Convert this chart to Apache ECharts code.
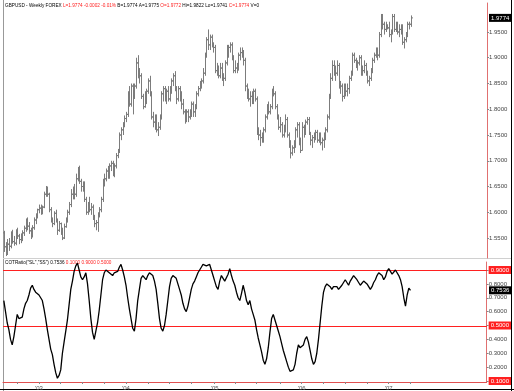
<!DOCTYPE html>
<html><head><meta charset="utf-8">
<script src="https://cdn.jsdelivr.net/npm/echarts@6/dist/echarts.min.js"></script>
<style>html,body{margin:0;padding:0;background:#fff}#c{width:514px;height:391px}</style>
</head><body><div id="c"></div>
<script>
// ---------- data ----------
const startWeek = '2002-08-09';          // first weekly bar (week ending Friday)
const totalSlots = 289;                  // weekly slots on the x axis (data + empty right margin)
const yearLabels = {"2003":"'03","2004":"'04","2005":"'05","2006":"'06","2007":"'07"};
const priceTicks = [1.55,1.60,1.65,1.70,1.75,1.80,1.85,1.90,1.95];
const cotTicks = [0.1,0.2,0.3,0.4,0.5,0.6,0.7,0.8,0.9];
const cotRedTicks = [0.1,0.5,0.9];
const cotLevels = [0.9,0.5];
const lastPrice = 1.9774;
const lastCot = 0.7536;

const opens = [
1.5600,1.5330,1.5300,1.5380,1.5340,1.5600,1.5430,1.5400,1.5620,1.5540,1.5470,1.5500,1.5600,1.5690,1.5850,1.5730,1.5640,1.5540,1.5700,1.5850,1.5930,
1.6050,1.6080,1.6050,1.6100,1.6350,1.6450,1.6350,1.6050,1.5850,1.5780,1.5980,1.5850,1.5650,1.5780,1.5620,1.5500,1.5720,1.5850,1.6000,1.6150,1.6350,1.6400,1.6350,1.6650,1.6800,1.6600,1.6500,1.6550,1.6250,1.6000,1.6150,1.6050,1.6100,1.5900,1.5780,1.5800,1.5950,1.6050,1.6250,1.6600,1.6650,1.6800,1.6700,1.6900,1.6950,1.6750,1.6900,1.7100,1.7200,1.7500,1.7600,1.7700,
1.7820,1.7900,1.8300,1.8100,1.8450,1.8250,1.8450,1.8900,1.8750,1.8650,1.8250,1.8050,1.8300,1.8350,1.8550,1.8300,1.7850,1.7750,1.7800,1.7600,1.7650,1.7850,1.8300,1.8400,1.8250,1.8350,1.8200,1.8400,1.8550,1.8650,1.8400,1.8200,1.8400,1.8250,1.8100,1.7950,1.7800,1.7950,1.7850,1.7950,1.8100,1.7950,1.8050,1.8300,1.8400,1.8500,1.8550,1.8700,1.9050,1.9350,1.9250,1.9400,1.9250,
1.9200,1.8750,1.8800,1.8650,1.8800,1.8600,1.8600,1.8900,1.9200,1.9200,1.9250,1.9000,1.8750,1.8800,1.8800,1.9050,1.9100,1.9100,1.8950,1.8450,1.8300,1.8200,1.8250,1.8200,1.8350,1.8200,1.7550,1.7500,1.7450,1.7400,1.7600,1.7850,1.8050,1.7950,1.8050,1.8350,1.8300,1.8050,1.7850,1.7650,1.7700,1.7500,1.7600,1.7800,1.7500,1.7300,1.7150,1.7250,1.7300,1.7600,1.7700,1.7400,
1.7200,1.7650,1.7600,1.7750,1.7800,1.7550,1.7400,1.7450,1.7500,1.7550,1.7400,1.7500,1.7350,1.7400,1.7450,1.7600,1.7850,1.8250,1.8600,1.8850,1.8800,1.8700,1.8850,1.8450,1.8450,1.8250,1.8450,1.8350,1.8400,1.8600,1.8700,1.9050,1.8950,1.8850,1.8900,1.9000,1.8700,1.8750,1.8850,1.8700,1.8550,1.8600,1.8750,1.8950,1.9050,1.9150,1.9050,1.9450,1.9750,1.9650,1.9550,1.9600,
1.9580,1.9450,1.9500,1.9800,1.9550,1.9650,1.9500,1.9550,1.9600,1.9300,1.9350,1.9450,1.9650,1.9650];

const highs = [
1.5640,1.5420,1.5480,1.5500,1.5630,1.5660,1.5540,1.5670,1.5700,1.5580,1.5590,1.5650,1.5740,1.5880,1.5900,1.5810,1.5700,1.5750,1.5900,1.5980,1.6070,
1.6150,1.6150,1.6130,1.6400,1.6510,1.6500,1.6380,1.6100,1.5900,1.6020,1.6050,1.5880,1.5830,1.5800,1.5700,1.5780,1.5900,1.6050,1.6200,1.6450,1.6500,1.6550,1.6750,1.6880,1.6905,1.6650,1.6600,1.6600,1.6300,1.6200,1.6300,1.6180,1.6150,1.5950,1.5850,1.6000,1.6100,1.6300,1.6650,1.6750,1.6850,1.6900,1.6950,1.7000,1.7000,1.6950,1.7150,1.7230,1.7550,1.7650,1.7750,1.7880,
1.7950,1.8350,1.8450,1.8500,1.8500,1.8500,1.9000,1.9050,1.8800,1.8700,1.8300,1.8350,1.8400,1.8600,1.8650,1.8350,1.7950,1.7900,1.7900,1.7750,1.7900,1.8350,1.8450,1.8450,1.8400,1.8450,1.8450,1.8600,1.8700,1.8740,1.8450,1.8450,1.8450,1.8350,1.8200,1.8000,1.8000,1.8000,1.8000,1.8150,1.8150,1.8100,1.8350,1.8450,1.8550,1.8600,1.8800,1.9100,1.9400,1.9550,1.9450,1.9450,1.9300,
1.9250,1.8900,1.8850,1.8900,1.8900,1.8700,1.8950,1.9250,1.9250,1.9300,1.9300,1.9050,1.8950,1.8900,1.9100,1.9200,1.9200,1.9150,1.9000,1.8500,1.8400,1.8350,1.8350,1.8400,1.8400,1.8250,1.7650,1.7600,1.7550,1.7650,1.7900,1.8100,1.8150,1.8100,1.8400,1.8450,1.8350,1.8100,1.7900,1.7850,1.7750,1.7700,1.7900,1.7850,1.7550,1.7400,1.7300,1.7400,1.7650,1.7750,1.7750,1.7450,
1.7750,1.7700,1.7800,1.7850,1.7850,1.7550,1.7500,1.7550,1.7600,1.7600,1.7550,1.7550,1.7450,1.7550,1.7650,1.7900,1.8300,1.8700,1.8950,1.8950,1.8850,1.8950,1.8900,1.8550,1.8500,1.8500,1.8500,1.8500,1.8650,1.8750,1.9100,1.9100,1.9000,1.8950,1.9050,1.9050,1.8850,1.8950,1.8900,1.8750,1.8650,1.8800,1.9000,1.9100,1.9200,1.9200,1.9500,1.9850,1.9850,1.9700,1.9700,1.9650,
1.9700,1.9550,1.9850,1.9850,1.9700,1.9700,1.9650,1.9650,1.9650,1.9400,1.9500,1.9700,1.9700,1.9822];

const lows = [
1.5230,1.5150,1.5170,1.5250,1.5300,1.5390,1.5350,1.5360,1.5480,1.5380,1.5400,1.5440,1.5540,1.5620,1.5650,1.5580,1.5480,1.5510,1.5660,1.5770,1.5880,
1.5980,1.5950,1.5960,1.6080,1.6300,1.6300,1.6000,1.5800,1.5710,1.5750,1.5800,1.5560,1.5620,1.5560,1.5460,1.5480,1.5700,1.5800,1.5950,1.6100,1.6250,1.6250,1.6300,1.6600,1.6550,1.6400,1.6400,1.6200,1.5950,1.5950,1.6000,1.5950,1.5850,1.5710,1.5650,1.5620,1.5900,1.6000,1.6200,1.6500,1.6600,1.6650,1.6650,1.6800,1.6700,1.6680,1.6850,1.7050,1.7150,1.7400,1.7500,1.7650,
1.7750,1.7850,1.8050,1.8050,1.7900,1.8200,1.8400,1.8600,1.8500,1.8200,1.8000,1.8030,1.8100,1.8300,1.8250,1.7800,1.7650,1.7600,1.7550,1.7480,1.7600,1.7800,1.8150,1.8150,1.8100,1.8150,1.8150,1.8300,1.8450,1.8350,1.8100,1.8150,1.8150,1.8000,1.7900,1.7720,1.7750,1.7750,1.7800,1.7850,1.7850,1.7850,1.8000,1.8250,1.8350,1.8400,1.8500,1.8650,1.9000,1.9150,1.9150,1.9200,1.9100,
1.8700,1.8650,1.8600,1.8600,1.8550,1.8450,1.8550,1.8850,1.9000,1.9100,1.8950,1.8700,1.8700,1.8700,1.8750,1.8950,1.9000,1.8850,1.8350,1.8200,1.8150,1.8050,1.8100,1.8100,1.8150,1.7500,1.7400,1.7285,1.7350,1.7350,1.7550,1.7800,1.7900,1.7900,1.8000,1.8250,1.8000,1.7800,1.7600,1.7550,1.7450,1.7450,1.7550,1.7450,1.7250,1.7045,1.7100,1.7150,1.7250,1.7450,1.7300,1.7150,
1.7200,1.7450,1.7500,1.7700,1.7500,1.7300,1.7250,1.7350,1.7400,1.7350,1.7350,1.7300,1.7200,1.7250,1.7400,1.7550,1.7800,1.8200,1.8550,1.8650,1.8550,1.8650,1.8400,1.8300,1.8150,1.8200,1.8250,1.8250,1.8300,1.8550,1.8650,1.8900,1.8800,1.8750,1.8850,1.8650,1.8650,1.8700,1.8650,1.8500,1.8450,1.8550,1.8700,1.8900,1.9000,1.8950,1.9000,1.9400,1.9550,1.9450,1.9500,1.9550,
1.9400,1.9300,1.9450,1.9500,1.9500,1.9450,1.9400,1.9450,1.9250,1.9180,1.9300,1.9400,1.9550,1.9600];

const closes = [
1.5330,1.5300,1.5380,1.5340,1.5600,1.5430,1.5400,1.5620,1.5540,1.5470,1.5500,1.5600,1.5690,1.5850,1.5730,1.5640,1.5540,1.5700,1.5850,1.5930,1.6050,
1.6080,1.6050,1.6100,1.6350,1.6450,1.6350,1.6050,1.5850,1.5780,1.5980,1.5850,1.5650,1.5780,1.5620,1.5500,1.5720,1.5850,1.6000,1.6150,1.6350,1.6400,1.6350,1.6650,1.6800,1.6600,1.6500,1.6550,1.6250,1.6000,1.6150,1.6050,1.6100,1.5900,1.5780,1.5800,1.5950,1.6050,1.6250,1.6600,1.6650,1.6800,1.6700,1.6900,1.6950,1.6750,1.6900,1.7100,1.7200,1.7500,1.7600,1.7700,1.7820,
1.7900,1.8300,1.8100,1.8450,1.8250,1.8450,1.8900,1.8750,1.8650,1.8250,1.8050,1.8300,1.8350,1.8550,1.8300,1.7850,1.7750,1.7800,1.7600,1.7650,1.7850,1.8300,1.8400,1.8250,1.8350,1.8200,1.8400,1.8550,1.8650,1.8400,1.8200,1.8400,1.8250,1.8100,1.7950,1.7800,1.7950,1.7850,1.7950,1.8100,1.7950,1.8050,1.8300,1.8400,1.8500,1.8550,1.8700,1.9050,1.9350,1.9250,1.9400,1.9250,1.9200,
1.8750,1.8800,1.8650,1.8800,1.8600,1.8600,1.8900,1.9200,1.9200,1.9250,1.9000,1.8750,1.8800,1.8800,1.9050,1.9100,1.9100,1.8950,1.8450,1.8300,1.8200,1.8250,1.8200,1.8350,1.8200,1.7550,1.7500,1.7450,1.7400,1.7600,1.7850,1.8050,1.7950,1.8050,1.8350,1.8300,1.8050,1.7850,1.7650,1.7700,1.7500,1.7600,1.7800,1.7500,1.7300,1.7150,1.7250,1.7300,1.7600,1.7700,1.7400,1.7200,
1.7650,1.7600,1.7750,1.7800,1.7550,1.7400,1.7450,1.7500,1.7550,1.7400,1.7500,1.7350,1.7400,1.7450,1.7600,1.7850,1.8250,1.8600,1.8850,1.8800,1.8700,1.8850,1.8450,1.8450,1.8250,1.8450,1.8350,1.8400,1.8600,1.8700,1.9050,1.8950,1.8850,1.8900,1.9000,1.8700,1.8750,1.8850,1.8700,1.8550,1.8600,1.8750,1.8950,1.9050,1.9150,1.9050,1.9450,1.9750,1.9650,1.9550,1.9600,1.9580,
1.9450,1.9500,1.9800,1.9550,1.9650,1.9500,1.9550,1.9600,1.9300,1.9350,1.9450,1.9650,1.9650,1.9774];

const cotRatio = [
0.68,0.60,0.52,0.47,0.40, 0.36,0.42,0.50,0.58,0.55, 0.54,0.56,0.62,0.66,0.68, 0.72,0.77,0.79,0.76,0.74,
0.74,0.72,0.70,0.68,0.62, 0.55,0.47,0.40,0.33,0.29, 0.22,0.16,0.12,0.14,0.18, 0.30,0.38,0.46,0.54,0.65,
0.76,0.82,0.89,0.93,0.95, 0.90,0.85,0.83,0.85,0.88, 0.80,0.68,0.55,0.45,0.40, 0.40,0.52,0.61,0.72,0.83,
0.88,0.90,0.91,0.88,0.87, 0.86,0.88,0.87,0.89,0.92, 0.94,0.90,0.85,0.79,0.70, 0.62,0.55,0.48,0.46,0.55,
0.68,0.76,0.84,0.86,0.85, 0.83,0.86,0.88,0.89,0.86, 0.82,0.76,0.66,0.55,0.48, 0.46,0.50,0.58,0.68,0.78,
0.84,0.86,0.87,0.84,0.80, 0.76,0.72,0.66,0.62,0.60, 0.64,0.70,0.76,0.80,0.82, 0.85,0.88,0.90,0.92,0.94,
0.95,0.93,0.92,0.94,0.90, 0.86,0.82,0.78,0.76,0.82, 0.86,0.84,0.82,0.83,0.87, 0.91,0.86,0.82,0.79,0.74,
0.70,0.68,0.73,0.79,0.74, 0.68,0.65,0.68,0.62,0.58, 0.54,0.47,0.41,0.36,0.31, 0.25,0.22,0.26,0.34,0.45,
0.55,0.58,0.54,0.50,0.46, 0.42,0.37,0.32,0.28,0.24, 0.20,0.17,0.16,0.18,0.22, 0.30,0.36,0.34,0.33,0.36,
0.40,0.42,0.38,0.32,0.26, 0.22,0.24,0.30,0.40,0.52, 0.64,0.74,0.78,0.80,0.79, 0.78,0.76,0.78,0.79,0.78,
0.76,0.77,0.79,0.81,0.83, 0.81,0.79,0.82,0.84,0.86, 0.86,0.83,0.81,0.79,0.80, 0.82,0.83,0.80,0.78,0.76,
0.78,0.81,0.83,0.86,0.88, 0.89,0.86,0.83,0.85,0.89, 0.91,0.90,0.87,0.88,0.90, 0.89,0.86,0.83,0.78,0.70,
0.64,0.72,0.77,0.7536];

// ---------- build ----------
const n = closes.length;
if (opens.length!==n || highs.length!==n || lows.length!==n || cotRatio.length!==n) {
  throw new Error('length mismatch '+[opens.length,highs.length,lows.length,closes.length,cotRatio.length].join(','));
}
const cats = [];
const t0 = Date.parse(startWeek+'T00:00:00Z');
for (let i=0;i<totalSlots;i++) cats.push(new Date(t0+i*7*86400000).toISOString().slice(0,10));
const isYearStart = i => cats[i].slice(5,7)==='01' && +cats[i].slice(8,10)<=7;
const isQuarterStart = i => { const m=+cats[i].slice(5,7), d=+cats[i].slice(8,10); return (m===1||m===4||m===7||m===10) && d<=7 && i<n; };
const ohlc = closes.map((c,i)=>[i,opens[i],highs[i],lows[i],c]);

const FONT = 'Liberation Sans, Arial, sans-serif';
const near = (a,b)=>Math.abs(a-b)<1e-6;
const RED = '#ff2020';

const chart = echarts.init(document.getElementById('c'), null, {renderer:'canvas'});
const baseGraphic = [
  {type:'line', shape:{x1:3.5,y1:0,x2:3.5,y2:391}, style:{stroke:'#999', lineWidth:1}, silent:true},
  {type:'line', shape:{x1:511.5,y1:0,x2:511.5,y2:391}, style:{stroke:'#000', lineWidth:1}, silent:true},
  {type:'line', shape:{x1:0,y1:389.5,x2:514,y2:389.5}, style:{stroke:'#000', lineWidth:1}, silent:true},
  {type:'line', shape:{x1:3,y1:258.5,x2:511,y2:258.5}, style:{stroke:'#d0d0d0', lineWidth:1}, silent:true},
  {type:'text', left:5, top:3, silent:true,
    style:{text:'{k|GBPUSD - Weekly FOREX }{r|L=1.9774 -0.0002 -0.01% }{k|B=1.9774 A=1.9775 }{r|O=1.9772 }{k|Hi=1.9822 Lo=1.9741 }{r|C=1.9774 }{k|V=0}',
      font:'4.7px '+FONT,
      rich:{k:{fill:'#000', fontSize:4.7, fontFamily:FONT}, r:{fill:RED, fontSize:4.7, fontFamily:FONT}}}},
  {type:'text', left:5, top:260, silent:true,
    style:{text:'{k|COTRatio("SL","SS") 0.7536 }{r|0.1000 0.9000 0.5000}',
      font:'4.7px '+FONT,
      rich:{k:{fill:'#000', fontSize:4.7, fontFamily:FONT}, r:{fill:RED, fontSize:4.7, fontFamily:FONT}}}}
];
chart.setOption({
  animation:false,
  backgroundColor:'#fff',
  grid:[
    {left:3, right:27, top:3, height:255},
    {left:3, right:27, top:262, height:120}
  ],
  xAxis:[
    {type:'category', gridIndex:0, data:cats, boundaryGap:true, show:false},
    {type:'category', gridIndex:1, data:cats, boundaryGap:true,
      axisLine:{show:true, lineStyle:{color:'#e05050', width:1}},
      axisTick:{show:true, alignWithLabel:true, interval:(i)=>isQuarterStart(i), length:2, lineStyle:{color:'#888'}},
      axisLabel:{show:true, interval:(i)=>isYearStart(i), formatter:(v)=>yearLabels[v.slice(0,4)]||'', fontSize:6, color:'#555', margin:3, fontFamily:FONT},
      splitLine:{show:false}}
  ],
  yAxis:[
    {type:'value', gridIndex:0, position:'right', min:1.5112, max:2.0063,
      axisLine:{show:true, lineStyle:{color:'#e07070', width:1}},
      axisTick:{show:true, customValues:priceTicks, length:2, lineStyle:{color:'#888'}},
      axisLabel:{show:true, customValues:priceTicks, formatter:(v)=>v.toFixed(4), fontSize:6, color:'#444', margin:2, fontFamily:FONT},
      splitLine:{show:false}},
    {type:'value', gridIndex:1, position:'right', min:0.0928, max:0.9577,
      axisLine:{show:true, lineStyle:{color:'#e07070', width:1}},
      axisTick:{show:true, customValues:cotTicks, length:2, lineStyle:{color:'#888'}},
      axisLabel:{show:true, customValues:cotTicks, fontSize:6, color:'#444', margin:2, fontFamily:FONT,
        formatter:(v)=> cotRedTicks.some(r=>near(r,v)) ? '{r|'+v.toFixed(4)+'}' : v.toFixed(4),
        rich:{r:{backgroundColor:RED, color:'#fff', fontSize:6, padding:[1,2,1,2], fontFamily:FONT}}},
      splitLine:{show:false}}
  ],
  series:[
    {type:'custom', xAxisIndex:0, yAxisIndex:0, data:ohlc, encode:{x:0, y:[1,2,3,4]}, silent:true,
      renderItem:(params, api)=>{
        const i=api.value(0);
        const hi=api.coord([i,api.value(2)]), lo=api.coord([i,api.value(3)]);
        const op=api.coord([i,api.value(1)]), cl=api.coord([i,api.value(4)]);
        const x=Math.round(hi[0])+0.5;
        const st={stroke:'#7c7c7c', lineWidth:1};
        return {type:'group', children:[
          {type:'line', shape:{x1:x,y1:hi[1],x2:x,y2:lo[1]}, style:st},
          {type:'line', shape:{x1:x-1.5,y1:op[1],x2:x,y2:op[1]}, style:st},
          {type:'line', shape:{x1:x,y1:cl[1],x2:x+1.5,y2:cl[1]}, style:st}
        ]};
      }},
    {type:'line', xAxisIndex:1, yAxisIndex:1, data:cotRatio, showSymbol:false, silent:true, z:3, clip:false,
      lineStyle:{color:'#000', width:1.3}}
  ],
  graphic: baseGraphic
});
// level lines and last-value boxes placed through the axis scales
const py = chart.convertToPixel({yAxisIndex:0}, lastPrice);
const cy = chart.convertToPixel({yAxisIndex:1}, lastCot);
const x1 = 487;
const extra = cotLevels.map(v=>{
  const y = Math.round(chart.convertToPixel({yAxisIndex:1}, v)) + 0.5;
  return {type:'line', shape:{x1:3, y1:y, x2:x1, y2:y}, style:{stroke:RED, lineWidth:1}, silent:true, z:1};
});
extra.push(
  {type:'text', x:489, y:py, silent:true, z:100,
    style:{text:lastPrice.toFixed(4), fill:'#fff', backgroundColor:'#000', padding:[1,2,1,2], fontSize:6, fontFamily:FONT, verticalAlign:'middle', align:'left'}},
  {type:'text', x:489, y:cy, silent:true, z:100,
    style:{text:lastCot.toFixed(4), fill:'#fff', backgroundColor:'#000', padding:[1,2,1,2], fontSize:6, fontFamily:FONT, verticalAlign:'middle', align:'left'}}
);
chart.setOption({graphic: baseGraphic.concat(extra)});
</script>
</body></html>
